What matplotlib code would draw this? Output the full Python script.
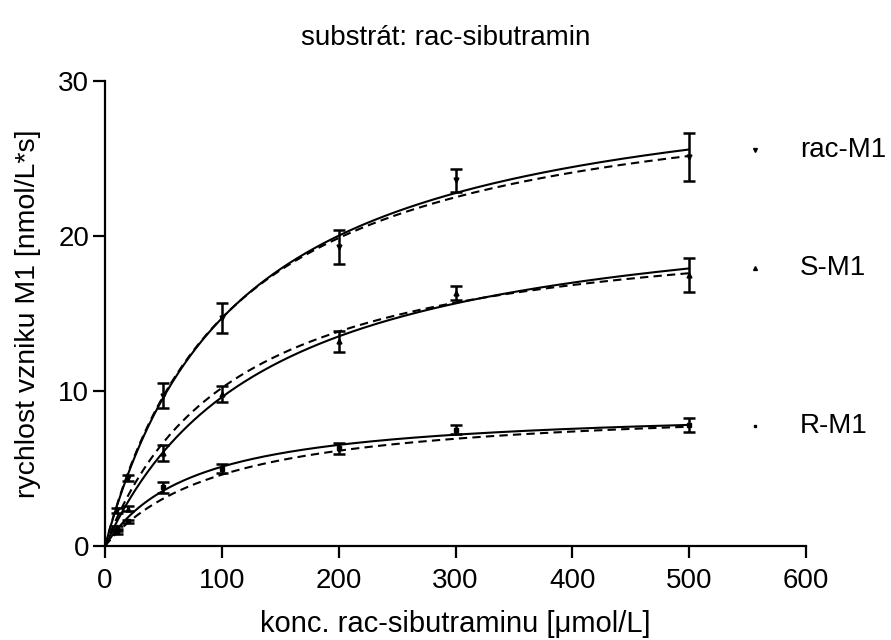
import numpy as np
import matplotlib
matplotlib.use("Agg")
import matplotlib.pyplot as plt

plt.rcParams['font.family'] = ['Liberation Sans', 'DejaVu Sans']

conc = [10, 20, 50, 100, 200, 300, 500]
series = ["rac-M1", "S-M1", "R-M1"]
rac_mean = [2.3, 4.4, 9.7, 14.7, 19.3, 23.6, 25.1]
rac_err = [0.15, 0.2, 0.8, 0.95, 1.1, 0.75, 1.55]
s_mean = [1.2, 2.4, 6.0, 9.8, 13.2, 16.3, 17.5]
s_err = [0.1, 0.15, 0.5, 0.5, 0.7, 0.45, 1.1]
r_mean = [0.9, 1.6, 3.8, 5.0, 6.3, 7.5, 7.8]
r_err = [0.1, 0.1, 0.35, 0.3, 0.35, 0.3, 0.45]

# fitted Michaelis-Menten parameters (Vmax, Km)
fit_solid = {"rac-M1": (31.4, 113.7), "S-M1": (22.85, 138.0), "R-M1": (9.0, 76.0)}
fit_dashed = {"rac-M1": (30.6, 108.0), "S-M1": (21.5, 110.8), "R-M1": (9.25, 101.0)}

means = {"rac-M1": rac_mean, "S-M1": s_mean, "R-M1": r_mean}
errs = {"rac-M1": rac_err, "S-M1": s_err, "R-M1": r_err}
markers = {"rac-M1": "v", "S-M1": "^", "R-M1": "s"}
msizes = {"rac-M1": 3.5, "S-M1": 3.5, "R-M1": 2.2}
legend_y = [0.852, 0.598, 0.258]

fig = plt.figure(figsize=(8.91, 6.4), dpi=100)
ax = fig.add_axes([105/891, 94/640, 701/891, 465/640])

xs = np.linspace(0, 500, 400)
for name in series:
    vm, km = fit_solid[name]
    ax.plot(xs, vm * xs / (km + xs), color='black', lw=1.5, zorder=2)
    vm, km = fit_dashed[name]
    ax.plot(xs, vm * xs / (km + xs), color='black', lw=1.5, ls=(0, (4, 2.5)), zorder=2)
    ax.errorbar(conc, means[name], yerr=errs[name], fmt=markers[name], ms=msizes[name],
                color='black', ecolor='black', elinewidth=1.8, capsize=4.5, capthick=1.8,
                zorder=3)

for name, ly in zip(series, legend_y):
    ax.plot([0.927], [ly], marker=markers[name], ms=msizes[name] * 0.8, color='black',
            transform=ax.transAxes, clip_on=False)
    ax.text(0.991, ly, name, transform=ax.transAxes, fontsize=20, va='center', ha='left')

ax.set_xlim(0, 600)
ax.set_ylim(0, 30)
ax.set_xticks([0, 100, 200, 300, 400, 500, 600])
ax.set_yticks([0, 10, 20, 30])
ax.spines['top'].set_visible(False)
ax.spines['right'].set_visible(False)
for s in ['left', 'bottom']:
    ax.spines[s].set_linewidth(1.6)
ax.tick_params(direction='out', length=8.5, width=1.6, labelsize=20)
ax.tick_params(axis='x', pad=7)
ax.tick_params(axis='y', pad=3)

ax.set_xlabel("konc. rac-sibutraminu [\u03bcmol/L]", fontsize=21, labelpad=12)
ax.set_ylabel("rychlost vzniku M1 [nmol/L*s]", fontsize=20.5, labelpad=12)
fig.text(0.5, 1 - 38/640, "substrát: rac-sibutramin", ha='center', va='center', fontsize=20)

fig.savefig("out.png", dpi=100)
